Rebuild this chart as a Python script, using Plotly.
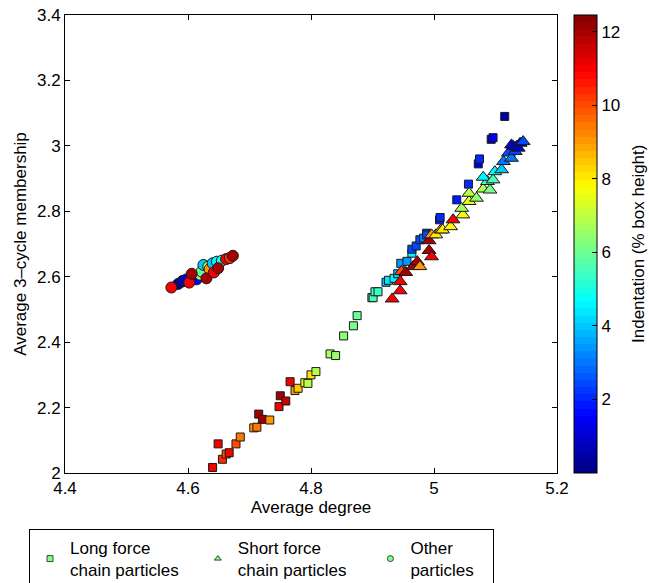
import plotly.graph_objects as go
import numpy as np

# ---- Data ----
long_x = [4.640, 4.649, 4.656, 4.662, 4.667, 4.678, 4.685, 4.707, 4.712, 4.715, 4.721, 4.733,
          4.748, 4.750, 4.759, 4.766, 4.774, 4.779, 4.790, 4.795, 4.800, 4.808, 4.831, 4.840,
          4.853, 4.869, 4.875, 4.899, 4.901, 4.904, 4.909, 4.922, 4.926, 4.935, 4.941, 4.946,
          4.956, 4.964, 4.964, 4.971, 4.977, 4.983, 4.988, 4.988, 5.009, 5.010, 5.037, 5.056,
          5.072, 5.074, 5.093, 5.096, 5.115]
long_y = [2.017, 2.089, 2.042, 2.058, 2.062, 2.089, 2.110, 2.138, 2.140, 2.180, 2.164, 2.162,
          2.203, 2.236, 2.220, 2.279, 2.252, 2.259, 2.276, 2.274, 2.300, 2.310, 2.364, 2.359,
          2.419, 2.450, 2.481, 2.536, 2.536, 2.554, 2.554, 2.583, 2.589, 2.595, 2.609, 2.641,
          2.647, 2.672, 2.684, 2.694, 2.713, 2.718, 2.733, 2.728, 2.774, 2.781, 2.835, 2.883,
          2.945, 2.960, 3.020, 3.025, 3.090]
long_c = [11.0, 11.0, 10.5, 10.0, 11.0, 10.0, 9.5, 9.0, 9.5, 12.0, 12.0, 9.0,
          11.0, 12.0, 11.5, 11.0, 9.0, 8.5, 7.5, 7.0, 8.0, 7.0, 6.8, 6.5,
          6.3, 6.2, 6.0, 5.5, 5.5, 5.3, 5.3, 3.8, 4.3, 4.5, 4.0, 3.5,
          3.5, 4.5, 2.5, 2.5, 2.5, 3.0, 2.5, 2.5, 2.0, 2.0, 1.8, 2.0,
          0.8, 2.0, 0.6, 1.5, 0.5]

short_x = [4.932, 4.945, 4.945, 4.947, 4.954, 4.966, 4.973, 4.977, 4.992, 4.996, 4.992, 4.996,
           5.003, 5.011, 5.014, 5.027, 5.031, 5.047, 5.045, 5.057, 5.057, 5.069, 5.080, 5.091,
           5.087, 5.080, 5.096, 5.099, 5.110, 5.113, 5.121, 5.126, 5.132, 5.126, 5.134, 5.129,
           5.137, 5.140, 5.145]
short_y = [2.532, 2.557, 2.585, 2.616, 2.613, 2.631, 2.646, 2.631, 2.680, 2.661, 2.710, 2.728,
           2.728, 2.743, 2.743, 2.753, 2.774, 2.789, 2.809, 2.830, 2.855, 2.840, 2.868, 2.865,
           2.891, 2.904, 2.896, 2.921, 2.927, 2.952, 2.978, 2.962, 2.983, 3.003, 2.998, 2.998,
           2.993, 3.008, 3.013]
short_c = [11.0, 11.0, 11.0, 10.0, 12.0, 12.0, 12.0, 9.0, 12.0, 11.0, 12.0, 9.0,
           8.0, 9.0, 8.0, 7.8, 11.0, 7.7, 6.8, 7.5, 7.0, 6.5, 7.0, 6.2,
           5.5, 4.5, 5.5, 4.5, 4.0, 3.0, 2.5, 3.0, 2.5, 1.5, 1.8, 0.8,
           1.0, 0.8, 2.5]

other_x = [4.584, 4.590, 4.592, 4.598, 4.614, 4.620, 4.622, 4.625, 4.633, 4.635, 4.640, 4.647,
           4.655, 4.573, 4.602, 4.606, 4.630, 4.642, 4.649, 4.662, 4.668, 4.673]
other_y = [2.578, 2.585, 2.588, 2.592, 2.592, 2.606, 2.616, 2.636, 2.631, 2.623, 2.641, 2.646,
           2.649, 2.567, 2.582, 2.609, 2.595, 2.613, 2.626, 2.654, 2.657, 2.664]
other_c = [0.5, 0.3, 1.0, 1.0, 1.5, 6.5, 6.0, 4.0, 7.0, 9.0, 4.0, 4.5,
           5.0, 11.0, 11.0, 12.0, 12.0, 11.0, 12.0, 11.0, 10.5, 12.0]

NB = "\u00a0"
names = ["Long force<br>chain particles" + NB * 3, "Short force<br>chain particles" + NB * 4,
         "Other<br>particles" + NB * 3]
x_ticks = [4.4, 4.6, 4.8, 5.0, 5.2]
x_labels = ["4.4", "4.6", "4.8", "5", "5.2"]
y_ticks = [2.0, 2.2, 2.4, 2.6, 2.8, 3.0, 3.2, 3.4]
y_labels = ["2", "2.2", "2.4", "2.6", "2.8", "3", "3.2", "3.4"]
cbar_ticks = [2, 4, 6, 8, 10, 12]
cbar_title = "Indentation (% box height)"


# ---- MATLAB-like jet(64) colourscale ----
def jet(t):
    r = np.clip(1.5 - abs(4 * t - 3), 0, 1)
    g = np.clip(1.5 - abs(4 * t - 2), 0, 1)
    b = np.clip(1.5 - abs(4 * t - 1), 0, 1)
    return "rgb(%d,%d,%d)" % (round(r * 255), round(g * 255), round(b * 255))


n = 64
cscale = []
for i in range(n):
    col = jet((i + 0.5) / n)
    cscale.append([i / n, col])
    cscale.append([(i + 1) / n, col])

CMIN, CMAX = 0.0, 12.45
FONT = "Liberation Sans, Arial, Helvetica, sans-serif"
edge = dict(color="rgb(25,25,25)", width=1)

fig = go.Figure()

fig.add_trace(go.Scatter(
    x=long_x, y=long_y, mode="markers", showlegend=False,
    marker=dict(symbol="square", size=8, color=long_c, colorscale=cscale,
                cmin=CMIN, cmax=CMAX, line=edge, showscale=False)))

fig.add_trace(go.Scatter(
    x=short_x, y=short_y, mode="markers", showlegend=False,
    marker=dict(symbol="triangle-up", size=12, color=short_c, colorscale=cscale,
                cmin=CMIN, cmax=CMAX, line=edge, showscale=False)))

fig.add_trace(go.Scatter(
    x=other_x, y=other_y, mode="markers", showlegend=False,
    marker=dict(symbol="circle", size=11, color=other_c, colorscale=cscale,
                cmin=CMIN, cmax=CMAX, line=edge, showscale=True,
                colorbar=dict(
                    x=(574 - 65) / 492, xanchor="left", xpad=0,
                    y=0.5, yanchor="middle", len=1.0, lenmode="fraction", ypad=0,
                    thickness=23, thicknessmode="pixels",
                    outlinecolor="black", outlinewidth=1,
                    tickmode="array", tickvals=cbar_ticks,
                    ticks="inside", ticklen=5, tickcolor="black",
                    tickfont=dict(family=FONT, size=17, color="black"),
                ))))

# legend-only entries
leg_col = "rgb(128,255,128)"
for sym, nm in zip(["square", "triangle-up", "circle"], names):
    fig.add_trace(go.Scatter(
        x=[None], y=[None], mode="markers", name=nm, showlegend=True,
        marker=dict(symbol=sym, size=6, color=leg_col,
                    line=dict(color="rgb(25,25,25)", width=0.8))))

axis_common = dict(
    showline=True, linecolor="black", linewidth=1, mirror="ticks",
    ticks="inside", ticklen=5, tickcolor="black", showgrid=False, zeroline=False,
    automargin=False,
    tickfont=dict(family=FONT, size=17, color="black"),
)

fig.update_xaxes(range=[4.4, 5.2], tickmode="array", tickvals=x_ticks, ticktext=x_labels,
                 title=dict(text="Average degree", standoff=2,
                            font=dict(family=FONT, size=17, color="black")),
                 **axis_common)
fig.update_yaxes(range=[2.0, 3.4], tickmode="array", tickvals=y_ticks, ticktext=y_labels,
                 title=dict(text="Average 3–cycle membership", standoff=6,
                            font=dict(family=FONT, size=17, color="black")),
                 **axis_common)

fig.add_annotation(text=cbar_title, xref="paper", yref="paper",
                   x=(638 - 65) / 492, y=(473 - 244) / 458, textangle=-90,
                   showarrow=False, xanchor="center", yanchor="middle",
                   font=dict(family=FONT, size=17, color="black"))

fig.update_layout(
    width=649, height=583,
    margin=dict(l=65, r=92, t=15, b=110, autoexpand=False),
    paper_bgcolor="white", plot_bgcolor="white",
    font=dict(family=FONT, size=17, color="black"),
    legend=dict(orientation="h", x=(29 - 65) / 492, xanchor="left",
                y=(473 - 529) / 458, yanchor="top",
                bordercolor="black", borderwidth=1, bgcolor="white",
                font=dict(family=FONT, size=17, color="black")),
)

fig.write_html("out.html")
